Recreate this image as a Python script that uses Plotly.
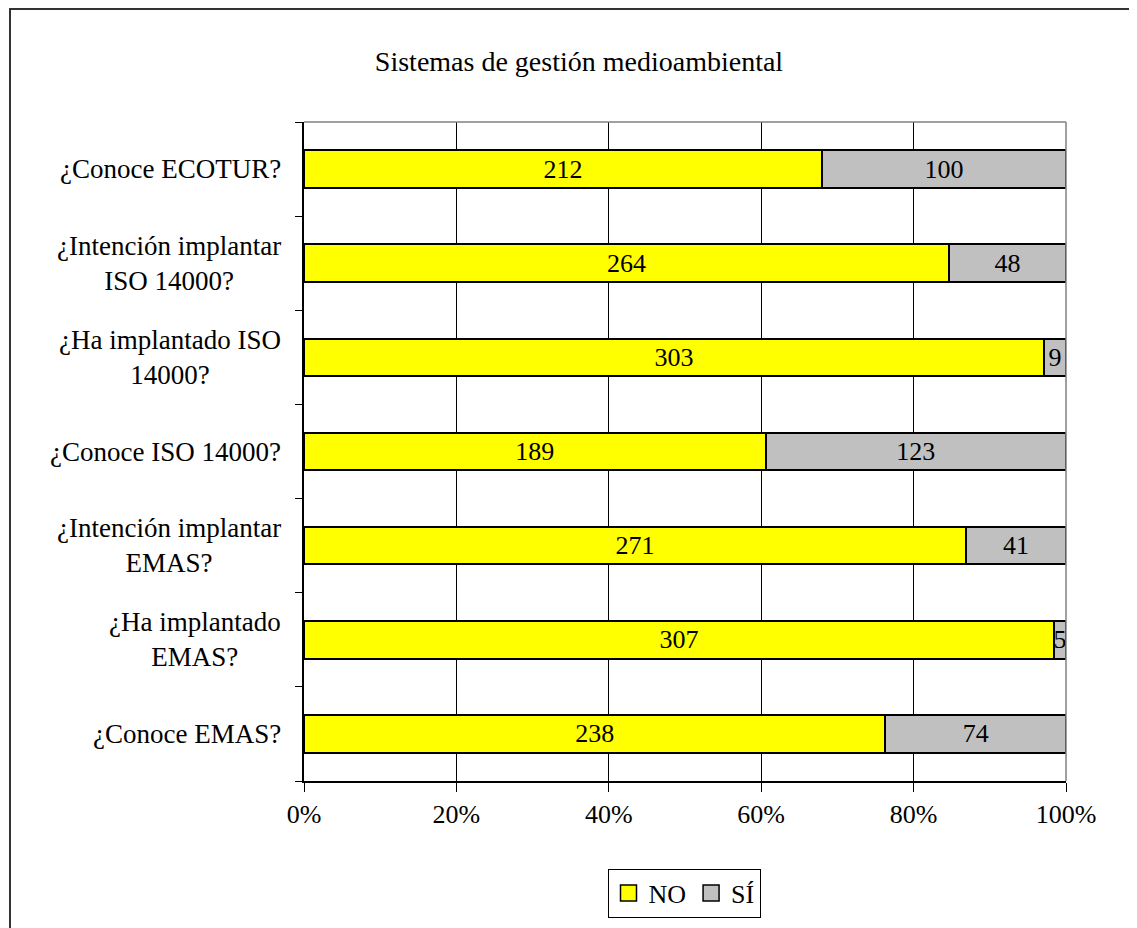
import plotly.graph_objects as go

categories = [
    "¿Conoce EMAS?",
    "¿Ha implantado<br>EMAS?",
    "¿Intención implantar<br>EMAS?",
    "¿Conoce ISO 14000?",
    "¿Ha implantado ISO<br>14000?",
    "¿Intención implantar<br>ISO 14000?",
    "¿Conoce ECOTUR?",
]
no_values = [238, 307, 271, 189, 303, 264, 212]
si_values = [74, 5, 41, 123, 9, 48, 100]
x_ticks = [0, 20, 40, 60, 80, 100]
x_tick_labels = ["0%", "20%", "40%", "60%", "80%", "100%"]

FONT = "Liberation Serif, Times New Roman, serif"
YELLOW = "#FFFF00"
GRAY = "#C0C0C0"

# figure sits at an 8px page offset; plot area on screen: x 304-1066, y 122-781
W, H = 1129, 920
L, T = 296, 114
PW, PH = 762, 659
R, B = W - L - PW, H - T - PH

fig = go.Figure()
for name, vals, col in [("NO", no_values, YELLOW), ("SÍ", si_values, GRAY)]:
    fig.add_trace(go.Bar(
        y=categories, x=vals, name=name, orientation="h", showlegend=False,
        marker=dict(color=col, line=dict(color="black", width=2)),
        text=vals, textposition="inside", insidetextanchor="middle",
        textangle=0, constraintext="none",
        textfont=dict(family=FONT, size=26, color="black"),
    ))
for name, col in [("NO", YELLOW), ("SÍ", GRAY)]:
    fig.add_trace(go.Scatter(
        x=[None], y=[None], mode="markers", name=name,
        marker=dict(symbol="square", size=16, color=col, line=dict(color="black", width=1.5)),
    ))

fig.update_layout(
    width=W, height=H,
    barmode="stack", barnorm="percent", bargap=0.6,
    paper_bgcolor="white", plot_bgcolor="white",
    margin=dict(l=L, r=R, t=T, b=B, autoexpand=False),
    font=dict(family=FONT, size=26, color="black"),
    title=dict(text="Sistemas de gestión medioambiental", x=(579 - 8) / W, xanchor="center",
               y=1 - (61 - 8) / H, yanchor="middle", font=dict(family=FONT, size=28, color="black")),
    showlegend=True,
    legend=dict(orientation="h", x=(684 - 304) / PW, xanchor="center",
                y=(781 - 893) / PH, yanchor="middle",
                bordercolor="black", borderwidth=1, bgcolor="white",
                font=dict(family=FONT, size=26, color="black"),
                itemsizing="trace", traceorder="normal", itemwidth=30),
    uniformtext=dict(minsize=26, mode="show"),
)

fig.update_xaxes(
    range=[0, 100], tickvals=x_ticks, ticktext=x_tick_labels,
    showgrid=True, gridcolor="black", gridwidth=1,
    showline=True, linecolor="black", linewidth=1.5,
    ticks="outside", ticklen=9, tickcolor="black",
    tickfont=dict(family=FONT, size=26, color="black"),
    zeroline=False, fixedrange=True,
)
fig.update_yaxes(
    showticklabels=False, tickson="boundaries", ticks="outside", ticklen=7,
    tickcolor="black", showline=True, linecolor="black", linewidth=1.5,
    showgrid=False, zeroline=False, fixedrange=True,
)

# category labels, centered multi-line, right edge next to the axis
for c in categories:
    fig.add_annotation(x=-21 / PW, xref="paper", y=c, yref="y", text=c, showarrow=False,
                       xanchor="right", align="center",
                       font=dict(family=FONT, size=27, color="black"))

# gray top and right borders of plot area
fig.add_shape(type="line", xref="paper", yref="paper", x0=0, x1=1, y0=1, y1=1,
              line=dict(color="#808080", width=1.5))
fig.add_shape(type="line", xref="paper", yref="paper", x0=1, x1=1, y0=0, y1=1,
              line=dict(color="#808080", width=1.5))
# outer chart border (left at screen x=10, top at the figure's top edge)
fig.add_shape(type="rect", xref="paper", yref="paper",
              x0=(10 - 304) / PW, x1=(1150 - 304) / PW,
              y0=(781 - 945) / PH, y1=(T + PH - 1) / PH,
              line=dict(color="#333333", width=2), layer="below")

fig.write_html("out.html")
